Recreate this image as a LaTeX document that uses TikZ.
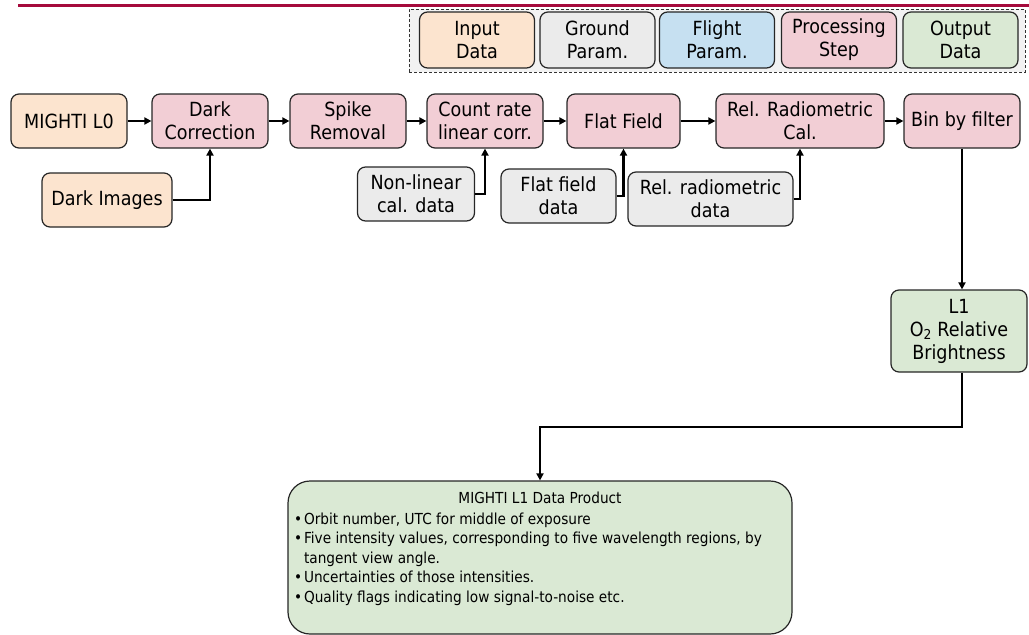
\documentclass[tikz,border=0pt]{standalone}
\usepackage{fontspec}
\setmainfont{DejaVu Sans}[FakeStretch=0.9]
\usetikzlibrary{arrows.meta}
\definecolor{indata}{RGB}{252,228,207}
\definecolor{grndpar}{RGB}{235,235,235}
\definecolor{fltpar}{RGB}{198,224,241}
\definecolor{procstep}{RGB}{242,206,213}
\definecolor{outdata}{RGB}{218,233,212}
\definecolor{banner}{RGB}{165,10,60}
\newcommand\bitem[1]{\par\hangindent=10pt\hangafter=1\noindent\makebox[10pt][l]{\textbullet}#1}

\begin{document}
\begin{tikzpicture}[x=1pt,y=-1pt,>={Triangle[length=7pt,width=7pt]},
        font=\fontsize{19.5}{23}\selectfont,
        box/.style={draw=black!85,line width=1.2pt,rounded corners=8pt,align=center,inner sep=0pt,minimum height=54pt},
        inbox/.style={box,fill=indata},
        gndbox/.style={box,fill=grndpar},
        fltbox/.style={box,fill=fltpar},
        procbox/.style={box,fill=procstep},
        outbox/.style={box,fill=outdata},
        link/.style={->,line width=2.2pt}]
        \useasboundingbox (0,0) rectangle (1029,635);
        \draw[banner,line width=3pt] (18,5) -- (1029,5);

        % legend
        \node[draw=black!80,dash pattern=on 3pt off 2pt,line width=1pt,fill=black!5,minimum width=616pt,minimum height=63pt,inner sep=0pt] (legend) at (717,40.5) {};
        \foreach \sty/\nm/\xc/\txt in {inbox/keyin/477/{Input\\Data},gndbox/keygnd/597.5/{Ground\\Param.},fltbox/keyflt/717/{Flight\\Param.},procbox/keyproc/839/{Processing\\Step},outbox/keyout/960.5/{Output\\Data}}
            \node[\sty,minimum width=115pt,minimum height=56pt] (\nm) at (\xc,40) {\txt};

        % processing chain
        \node[inbox,minimum width=116pt] (l0) at (69,121) {MIGHTI L0};
        \node[procbox,minimum width=116pt] (dark) at (210,121) {Dark\\Correction};
        \node[procbox,minimum width=116pt] (spike) at (348,121) {Spike\\Removal};
        \node[procbox,minimum width=116pt] (nonlin) at (485,121) {Count rate\\linear corr.};
        \node[procbox,minimum width=113pt] (flat) at (623.5,121) {Flat Field};
        \node[procbox,minimum width=168pt] (relrad) at (800,121) {Rel. Radiometric\\Cal.};
        \node[procbox,minimum width=116pt] (bin) at (962,121) {Bin by filter};

        % calibration inputs
        \node[inbox,minimum width=130pt] (darkimg) at (107,200) {Dark Images};
        \node[gndbox,minimum width=117pt] (nlcal) at (416,194) {Non-linear\\cal. data};
        \node[gndbox,minimum width=115pt] (ffdata) at (558.5,196) {Flat field\\data};
        \node[gndbox,minimum width=165pt] (rrdata) at (710.5,199) {Rel. radiometric\\data};

        % outputs
        \node[outbox,minimum width=136pt,minimum height=82pt] (l1) at (959,331) {L1\\O\textsubscript{2} Relative\\Brightness};
        \node[outbox,rounded corners=22pt,minimum width=504pt,minimum height=153pt] (prod) at (540,557.5) {%
            \fontsize{15.2}{19.5}\selectfont\setlength{\parskip}{0.8pt}%
            \parbox[c][140pt][t]{492pt}{\vspace*{4pt}\centering MIGHTI L1 Data Product\par\vspace{1.5pt}\raggedright
            \bitem{Orbit number, UTC for middle of exposure}
            \bitem{Five intensity values, corresponding to five wavelength regions, by\newline tangent view angle.}
            \bitem{Uncertainties of those intensities.}
            \bitem{Quality flags indicating low signal-to-noise etc.}}};
        \coordinate (turn) at (540,427);

        \foreach \a/\b in {l0/dark,dark/spike,spike/nonlin,nonlin/flat,flat/relrad,relrad/bin}
            \draw[link] (\a) -- (\b);
        \draw[link] (darkimg.east) -| (dark.south);
        \draw[link] (nlcal.east) -| (nonlin.south);
        \draw[link] (ffdata.east) -| (flat.south);
        \draw[link] (rrdata.east) -| (relrad.south);
        \draw[link] (bin.south) -- (bin.south |- l1.north);
        \draw[link] (l1.south -| bin.south) |- (turn) -- (prod.north);
\end{tikzpicture}
\end{document}
